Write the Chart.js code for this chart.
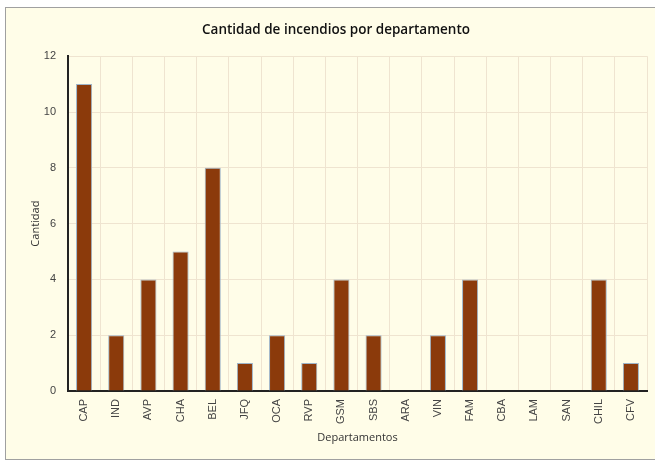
<!DOCTYPE html>
<html><head><meta charset="utf-8">
<script src="https://cdn.jsdelivr.net/npm/chart.js@4.4.0/dist/chart.umd.min.js"></script>
<style>
html,body{margin:0;padding:0;background:#fff;}
#box{position:absolute;left:5px;top:7px;width:650px;height:451px;border:1px solid #a0a0a0;border-right:none;background:#FFFDE8;}
#c{position:absolute;left:0;top:0;}
</style></head><body>
<div id="box"><canvas id="c" width="650" height="451"></canvas></div>
<script>
const categories = ["CAP","IND","AVP","CHA","BEL","JFQ","OCA","RVP","GSM","SBS","ARA","VIN","FAM","CBA","LAM","SAN","CHIL","CFV"];
const cantidad = [11,2,4,5,8,1,2,1,4,2,0,2,4,0,0,0,4,1];
const yTicks = [0,2,4,6,8,10,12];

new Chart(document.getElementById('c'), {
  type: 'bar',
  data: { labels: categories, datasets: [{
    data: cantidad,
    backgroundColor: '#8B3A0B',
    borderColor: '#9DB4C8',
    borderWidth: 1,
    categoryPercentage: 1,
    barPercentage: 0.5
  }]},
  options: {
    responsive: false,
    animation: false,
    layout: { padding: { left: 19, right: 9, top: 0, bottom: 11 } },
    plugins: {
      legend: { display: false },
      tooltip: { enabled: false },
      title: { display: true, text: 'Cantidad de incendios por departamento',
        color: '#111', font: { family: 'Open Sans', size: 13.5, weight: '600' },
        padding: { top: 14, bottom: 18 } }
    },
    scales: {
      x: {
        grid: { color: '#EFE4D0', lineWidth: 1, offset: true, drawTicks: false },
        border: { color: '#222', width: 2 },
        ticks: { color: '#444', font: { family: 'Liberation Sans', size: 11 }, maxRotation: 90, minRotation: 90, padding: 8, autoSkip: false },
        title: { display: true, text: 'Departamentos', color: '#333', font: { family: 'Open Sans', size: 11 }, padding: { top: 6 } },
        afterFit: s => { s.height = 57; }
      },
      y: {
        min: 0, max: 12,
        afterBuildTicks: s => { s.ticks = yTicks.map(v => ({ value: v })); },
        grid: { color: '#EFE4D0', lineWidth: 1, drawTicks: false },
        border: { color: '#222', width: 2 },
        ticks: { color: '#444', font: { family: 'Liberation Sans', size: 11 }, padding: 12 },
        title: { display: true, text: 'Cantidad', color: '#333', font: { family: 'Open Sans', size: 11 }, padding: { bottom: 2 } },
        afterFit: s => { s.width = 43; }
      }
    }
  }
});
</script>
</body></html>
